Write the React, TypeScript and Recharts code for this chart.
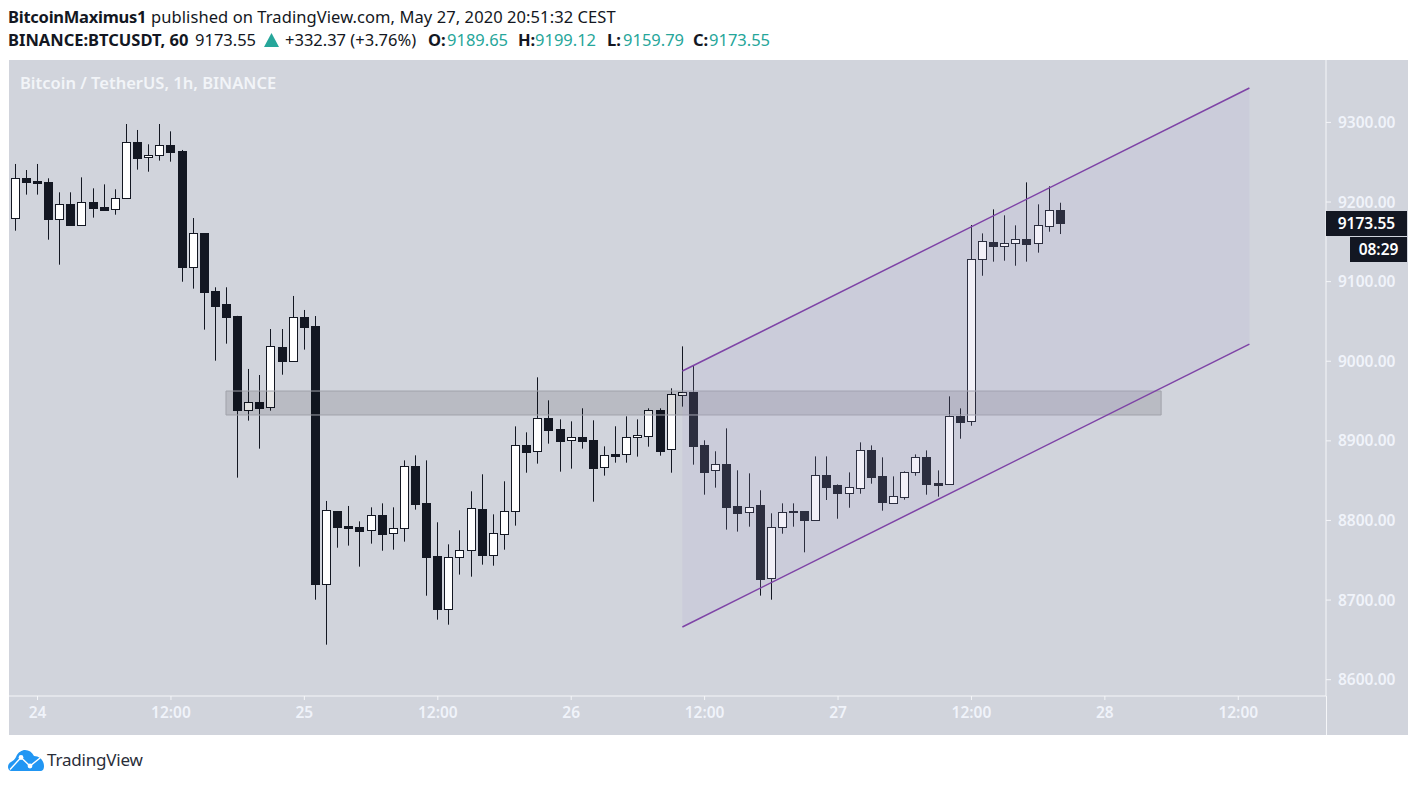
import React from "react";
import { ComposedChart, Bar, Area, Line, XAxis, YAxis, ReferenceArea } from "recharts";

const opens = [9180.4,9229.8,9226.4,9224.7,9179.1,9197.1,9171.6,9199.6,9193.8,9191.7,9204.6,9275,9256.1,9258.7,9271.2,9263.7,9118.8,9160.7,9087.8,9071.9,9056.8,8938.3,8948.4,8942.1,9017.9,9000.7,9055.2,9044.3,8719.8,8811.9,8793,8791.8,8787.6,8806.9,8783.8,8790.1,8868.4,8821.5,8755.4,8689.2,8753.7,8762.5,8814,8757.1,8782.6,8811.5,8894.4,8886.9,8928.3,8914.5,8900.7,8904.4,8900.7,8866.8,8883.1,8883.1,8904.4,8905.7,8938.4,8889.4,8957.2,8960.9,8894.4,8863,8870.5,8817.8,8810.2,8819,8727.3,8791.4,8811.5,8811.4,8801,8856.7,8844.1,8834.9,8841.2,8888,8855.4,8822.3,8829.9,8860.4,8879.3,8846.6,8845.3,8930.8,8924.5,9128,9149.8,9145.2,9148.1,9153.1,9148.1,9170.3,9189.65];
const highs = [9247.8,9240.2,9247.8,9229.8,9212.2,9212.2,9231,9217.2,9222.2,9216,9298,9290.5,9272.5,9298,9288.8,9265.4,9179.9,9160.7,9092.9,9092.9,9057,8990.3,8982.7,9040.5,9040.5,9082,9064.4,9056.8,8824.5,8811.9,8818.2,8798.9,8816.5,8821.5,8816.5,8875.5,8881.8,8875.5,8797.7,8770,8787.6,8836.6,8858,8807.7,8849.2,8918.2,8910.7,8979.8,8950.9,8927,8924.5,8940.9,8925.8,8893.1,8918.3,8930.8,8927,8940.9,8940.9,8966,9018.7,8994,8900.7,8886.9,8915.7,8863,8859.2,8837.9,8809,8821.5,8821.5,8811.4,8880.5,8880.5,8845.3,8860.4,8898.1,8894.3,8879.3,8855.4,8861.7,8883,8888,8862.9,8955.9,8940.8,9171.1,9160.6,9190.8,9183.3,9170.7,9224.7,9197.1,9219.7,9199.12];
const lows = [9164,9209.3,9209.3,9152.7,9121.3,9170.3,9171.6,9180.4,9190.4,9184.1,9204.6,9240.7,9238.1,9252,9250.7,9099.9,9091.2,9039.7,9000.7,9022.1,8853.8,8925.4,8890.2,8937.9,8983.1,9000.7,9014.6,8700.5,8644,8765.8,8768.4,8742,8770.9,8762,8763.3,8773.4,8813.6,8705.5,8675.4,8669.1,8732,8729.4,8744.5,8743.2,8763.3,8793.5,8860,8871.4,8896.5,8861.3,8865.1,8890.2,8823.6,8856.3,8872.6,8872.6,8880.2,8892.7,8881.4,8860,8943,8870.1,8832.4,8841.2,8788.5,8786,8792.2,8705.6,8700.5,8783.4,8792.2,8760,8801,8825.7,8802.2,8816,8833.6,8846.2,8812.3,8821,8826.1,8856.2,8832.4,8829.9,8845.3,8902.7,8919,9107.4,9125.1,9126.3,9120,9125.1,9136.4,9162.7,9159.79];
const closes = [9229.8,9225.6,9224.3,9179.1,9197.1,9171.6,9199.6,9192.9,9190.4,9204.6,9275,9255.7,9258.7,9271.2,9263.3,9118.8,9160.7,9087.4,9069.8,9056,8939.2,8948.4,8941.7,9018.7,9000.7,9055.2,9043.4,8720.6,8812.7,8792.2,8790.5,8787.2,8806.5,8783.4,8790.1,8868,8821.1,8754.5,8689.2,8753.7,8762.5,8815.3,8757.1,8783.8,8811.5,8894.4,8886.4,8928.3,8914.1,8900.3,8904.4,8900.3,8866.3,8881.8,8881.4,8904.4,8906.9,8938.4,8887.7,8958.4,8960.9,8894,8861.3,8870.5,8817.3,8809.8,8817.3,8726.9,8791.4,8811.1,8811.1,8801,8856.7,8842.4,8834.9,8841.6,8888,8855,8823.6,8830.3,8860.4,8879.3,8846.2,8844.9,8930.8,8924.1,9128,9150.6,9145.2,9148.1,9153.1,9147.7,9170.7,9189.5,9173.55];

const candles = opens.map((open, i) => ({
  i,
  open,
  close: closes[i],
  range: [lows[i], highs[i]],
}));

const channelStart = 60;
const channelEnd = 111;
const channel = [
  { i: channelStart, lower: 8666.2, upper: 8987.7, band: [8666.2, 8987.7] },
  { i: channelEnd, lower: 9021.6, upper: 9343.2, band: [9021.6, 9343.2] },
];

const zoneStart = 18.95;
const zoneEnd = 103.06;
const zoneBottom = 8932.5;
const zoneTop = 8962.6;

const xTicks = [2, 14, 26, 38, 50, 62, 74, 86, 98, 110];
const xLabels = ["24", "12:00", "25", "12:00", "26", "12:00", "27", "12:00", "28", "12:00"];
const yTicks = [8600, 8700, 8800, 8900, 9000, 9100, 9200, 9300];

const FONT = "'Noto Sans', sans-serif";
const AXIS_TEXT = "#f0f3fa";
const DARK = "#131722";
const TEAL = "#26a69a";

function Candle(props: any) {
  const { x, y, width, height, payload } = props;
  if (!payload || height == null) return null;
  const [low, high] = payload.range;
  const k = height / (high - low);
  const top = Math.max(payload.open, payload.close);
  const bottom = Math.min(payload.open, payload.close);
  const cx = Math.floor(x + width / 2);
  const yTop = Math.round(y + (high - top) * k);
  const yBottom = Math.round(y + (high - bottom) * k);
  const up = payload.close >= payload.open;
  return (
    <g>
      <rect x={cx} y={y} width={1} height={height} fill={DARK} />
      <rect
        x={cx - 3.5}
        y={yTop + 0.5}
        width={8}
        height={Math.max(yBottom - yTop, 1)}
        fill={up ? "#ffffff" : DARK}
        stroke={DARK}
        strokeWidth={1}
      />
    </g>
  );
}

const textBase: React.CSSProperties = { position: "absolute", fontFamily: FONT, whiteSpace: "nowrap" };
const line2 = (left: number, color = DARK, bold = false): React.CSSProperties => ({
  ...textBase, left, top: 29, fontSize: 16.5, lineHeight: "22px", color, fontWeight: bold ? 700 : 400,
});

export default function App() {
  return (
    <div style={{ position: "absolute", left: 0, top: 0, width: 1417, height: 785, background: "#fff", overflow: "hidden" }}>
      <div style={{ ...textBase, left: 8, top: 6, fontSize: 16.5, lineHeight: "22px", color: DARK, fontWeight: 700, letterSpacing: -0.25 }}>BitcoinMaximus1</div>
      <div style={{ ...textBase, left: 151, top: 6, fontSize: 16.5, lineHeight: "22px", color: DARK, letterSpacing: 0.08 }}>
        published on TradingView.com, May 27, 2020 20:51:32 CEST
      </div>
      <div style={line2(8, DARK, true)}>BINANCE:BTCUSDT, 60</div>
      <div style={line2(195)}>9173.55</div>
      <svg style={{ position: "absolute", left: 264, top: 33 }} width="15" height="14"><path d="M7.5 0 L15 14 L0 14 Z" fill={TEAL} /></svg>
      <div style={line2(285)}>+332.37 (+3.76%)</div>
      <div style={line2(428, DARK, true)}>O:</div>
      <div style={line2(447, TEAL)}>9189.65</div>
      <div style={line2(518, DARK, true)}>H:</div>
      <div style={line2(535, TEAL)}>9199.12</div>
      <div style={line2(607, DARK, true)}>L:</div>
      <div style={line2(623, TEAL)}>9159.79</div>
      <div style={line2(693, DARK, true)}>C:</div>
      <div style={line2(709, TEAL)}>9173.55</div>
      <div style={{ position: "absolute", left: 9, top: 60, width: 1399, height: 675, background: "#d1d4dc" }} />
      <div style={{ position: "absolute", left: 1326, top: 696, width: 1, height: 39, background: "#f5f6f9" }} />
      <div style={{ position: "absolute", left: 0, top: 0 }}>
        <ComposedChart
          width={1417}
          height={785}
          data={candles}
          margin={{ top: 60, right: 0, bottom: 50, left: 9 }}
        >
          <XAxis
            dataKey="i"
            type="number"
            domain={[-0.567, 117.89]}
            allowDataOverflow
            ticks={xTicks}
            interval={0}
            height={39}
            tickSize={4}
            tickMargin={7}
            tickFormatter={(v: number) => xLabels[xTicks.indexOf(v)]}
            axisLine={{ stroke: "#f5f6f9" }}
            tickLine={{ stroke: "#f5f6f9" }}
            tick={{ fill: AXIS_TEXT, fontFamily: FONT, fontSize: 15.5, fontWeight: 600 }}
          />
          <YAxis
            orientation="right"
            type="number"
            domain={[8579.5, 9378.4]}
            allowDataOverflow
            ticks={yTicks}
            interval={0}
            width={91}
            tickSize={5}
            tickMargin={7}
            tickFormatter={(v: number) => v.toFixed(2)}
            axisLine={{ stroke: "#f5f6f9" }}
            tickLine={{ stroke: "#f5f6f9" }}
            tick={{ fill: AXIS_TEXT, fontFamily: FONT, fontSize: 15.5, fontWeight: 600 }}
          />
          <Bar dataKey="range" barSize={9} shape={Candle} isAnimationActive={false} zIndex={50} />
          <ReferenceArea
            x1={zoneStart}
            x2={zoneEnd}
            y1={zoneBottom}
            y2={zoneTop}
            fill="#000000"
            fillOpacity={0.115}
            stroke="#a0a2aa"
            strokeWidth={1}
            zIndex={600}
          />
          <Area
            data={channel}
            dataKey="band"
            type="linear"
            stroke="none"
            fill="rgb(175,163,215)"
            fillOpacity={0.165}
            dot={false}
            activeDot={false}
            isAnimationActive={false}
            zIndex={610}
          />
          <Line data={channel} dataKey="upper" type="linear" stroke="#7e43a6" strokeWidth={1.5} dot={false} activeDot={false} isAnimationActive={false} zIndex={620} />
          <Line data={channel} dataKey="lower" type="linear" stroke="#7e43a6" strokeWidth={1.5} dot={false} activeDot={false} isAnimationActive={false} zIndex={620} />
        </ComposedChart>
      </div>
      <div style={{ ...textBase, left: 20, top: 72, fontSize: 16.5, lineHeight: "22px", fontWeight: 600, color: "#f2f4f8" }}>
        Bitcoin / TetherUS, 1h, BINANCE
      </div>
      <div style={{ ...textBase, left: 1326, top: 211, width: 81, height: 25, background: DARK, color: "#fff", fontSize: 15.5, fontWeight: 600, lineHeight: "25px", textAlign: "center" }}>
        9173.55
      </div>
      <div style={{ ...textBase, left: 1350, top: 237, width: 57, height: 25, background: DARK, color: "#fff", fontSize: 15.5, fontWeight: 600, lineHeight: "25px", textAlign: "center" }}>
        08:29
      </div>
      <svg style={{ position: "absolute", left: 8, top: 750 }} width="37" height="22" viewBox="0 0 37 22">
        <path d="M3 21 C-1 20 -1 14 3 12 C5 11 7 9 8 7 C10 2 14 0 17 0 C21 0 24 2 26 6 C31 6 36 10 36 16 C36 19 35 21 32 21 Z" fill="#2196f3" />
        <path d="M2 19.5 L13 7.5 L22 16 L32 8" fill="none" stroke="#fff" strokeWidth="1.4" />
        <circle cx="13" cy="7.5" r="2.4" fill="#fff" />
        <circle cx="22" cy="16" r="2.4" fill="#fff" />
      </svg>
      <div style={{ ...textBase, left: 47, top: 749, fontSize: 17, lineHeight: "22px", color: "#2a2e39", letterSpacing: -0.2 }}>
        TradingView
      </div>
    </div>
  );
}
